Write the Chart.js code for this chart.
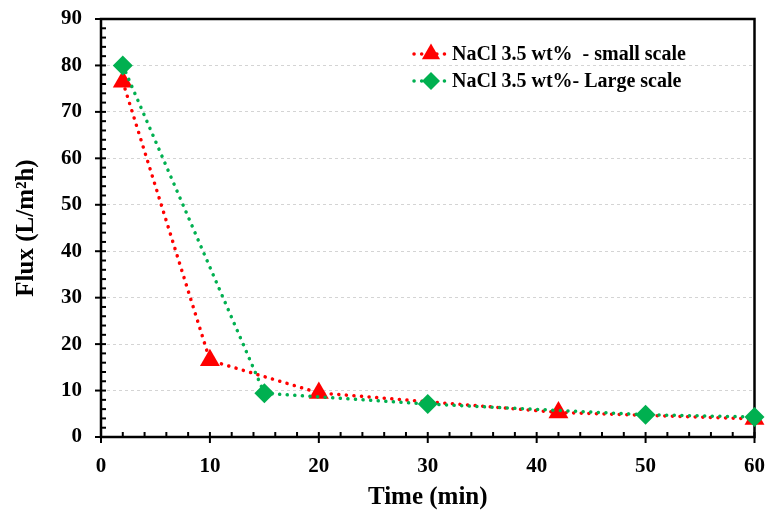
<!DOCTYPE html>
<html>
<head>
<meta charset="utf-8">
<script src="https://cdn.jsdelivr.net/npm/chart.js@4.4.0/dist/chart.umd.min.js"></script>
<style>
  html, body { margin: 0; padding: 0; background: #fff; }
  #wrap { width: 766px; height: 510px; }
</style>
</head>
<body>
<div id="wrap"><canvas id="fluxChart"></canvas></div>
<script>
// data
const smallTime = [2, 10, 20, 42, 60];
const smallFlux = [76.5, 16.5, 9.5, 5.3, 3.9];
const largeTime = [2, 15, 30, 50, 60];
const largeFlux = [80.0, 9.4, 7.1, 4.8, 4.3];
const seriesNames = ['NaCl 3.5 wt%  - small scale', 'NaCl 3.5 wt%- Large scale'];

const RED = '#ff0000';
const GREEN = '#00b050';
const FONT = "'Liberation Serif', 'Times New Roman', serif";

function toPoints(xs, ys) {
    return xs.map((x, i) => ({ x: x, y: ys[i] }));
}

function drawMarker(ctx, style, x, y, r, color) {
    ctx.save();
    ctx.fillStyle = color;
    ctx.beginPath();
    if (style === 'triangle') {
        ctx.moveTo(x, y - r);
        ctx.lineTo(x + r * 0.866, y + r * 0.5);
        ctx.lineTo(x - r * 0.866, y + r * 0.5);
    } else {
        ctx.moveTo(x - r, y);
        ctx.lineTo(x, y - r);
        ctx.lineTo(x + r, y);
        ctx.lineTo(x, y + r);
    }
    ctx.closePath();
    ctx.fill();
    ctx.restore();
}

// frame + inner/outer tick marks like the original
const framePlugin = {
    id: 'frame',
    beforeDatasetsDraw(chart) {
        const { ctx, chartArea: a, scales } = chart;
        ctx.save();
        ctx.strokeStyle = '#000';
        ctx.lineWidth = 2;
        // x ticks, minor every 2
        for (let v = 0; v <= 60; v += 2) {
            const px = scales.x.getPixelForValue(v);
            const major = v % 10 === 0;
            ctx.beginPath();
            ctx.moveTo(px, a.bottom - 5);
            ctx.lineTo(px, major ? a.bottom + 6 : a.bottom);
            ctx.stroke();
        }
        // y ticks, minor every 2
        for (let v = 0; v <= 90; v += 2) {
            const py = scales.y.getPixelForValue(v);
            const major = v % 10 === 0;
            ctx.beginPath();
            ctx.moveTo(major ? a.left - 6 : a.left, py);
            ctx.lineTo(a.left + 5, py);
            ctx.stroke();
        }
        ctx.lineWidth = 2.5;
        ctx.strokeRect(a.left, a.top, a.right - a.left, a.bottom - a.top);
        ctx.restore();
    }
};

// legend with dotted line and marker
const legendPlugin = {
    id: 'dotLegend',
    afterDatasetsDraw(chart) {
        const { ctx } = chart;
        const rows = [54, 81];
        chart.data.datasets.forEach((ds, i) => {
            const y = rows[i];
            ctx.save();
            ctx.strokeStyle = ds.borderColor;
            ctx.lineWidth = ds.borderWidth;
            ctx.lineCap = 'round';
            ctx.setLineDash(ds.borderDash);
            ctx.beginPath();
            ctx.moveTo(414, y);
            ctx.lineTo(448, y);
            ctx.stroke();
            ctx.restore();
            drawMarker(ctx, ds.pointStyle, 431, y, ds.pointRadius - 1, ds.backgroundColor);
            ctx.save();
            ctx.fillStyle = '#000';
            ctx.font = 'bold 20px ' + FONT;
            ctx.textBaseline = 'middle';
            ctx.fillText(ds.label, 452, y + 1);
            ctx.restore();
        });
    }
};

new Chart(document.getElementById('fluxChart'), {
    type: 'scatter',
    data: {
        datasets: [
            {
                label: seriesNames[0],
                data: toPoints(smallTime, smallFlux),
                showLine: true,
                borderColor: RED,
                backgroundColor: RED,
                borderWidth: 3.5,
                borderDash: [0.1, 7.5],
                borderCapStyle: 'round',
                pointStyle: 'triangle',
                pointRadius: 11.5,
                pointBorderWidth: 0,
                clip: false,
                order: 2
            },
            {
                label: seriesNames[1],
                data: toPoints(largeTime, largeFlux),
                showLine: true,
                borderColor: GREEN,
                backgroundColor: GREEN,
                borderWidth: 3.5,
                borderDash: [0.1, 7.5],
                borderCapStyle: 'round',
                pointStyle: 'rectRot',
                pointRadius: 10,
                pointBorderWidth: 0,
                clip: false,
                order: 1
            }
        ]
    },
    options: {
        responsive: true,
        maintainAspectRatio: false,
        animation: false,
        layout: { padding: { top: 19, right: 11, left: 0, bottom: 0 } },
        plugins: {
            legend: { display: false },
            tooltip: { enabled: false }
        },
        scales: {
            x: {
                type: 'linear',
                min: 0,
                max: 60,
                afterFit: (s) => { s.height = 73; s.paddingLeft = 0; s.paddingRight = 0; },
                ticks: {
                    stepSize: 10,
                    color: '#000',
                    padding: 17,
                    font: { family: FONT, size: 21, weight: 'bold' }
                },
                grid: { display: false, drawTicks: false },
                border: { display: false },
                title: {
                    display: true,
                    text: 'Time (min)',
                    color: '#000',
                    font: { family: FONT, size: 25, weight: 'bold' },
                    padding: { top: 0, bottom: -3 }
                }
            },
            y: {
                min: 0,
                max: 90,
                afterFit: (s) => { s.width = 101; s.paddingTop = 0; s.paddingBottom = 0; },
                ticks: {
                    stepSize: 10,
                    color: '#000',
                    padding: 19,
                    font: { family: FONT, size: 21, weight: 'bold' }
                },
                grid: {
                    color: '#d4d4d4',
                    lineWidth: 1,
                    drawTicks: false
                },
                border: { display: false, dash: [3, 3] },
                title: {
                    display: true,
                    text: 'Flux (L/m²h)',
                    color: '#000',
                    font: { family: FONT, size: 25, weight: 'bold' },
                    padding: { top: 12, bottom: 0 }
                }
            }
        }
    },
    plugins: [framePlugin, legendPlugin]
});
</script>
</body>
</html>
